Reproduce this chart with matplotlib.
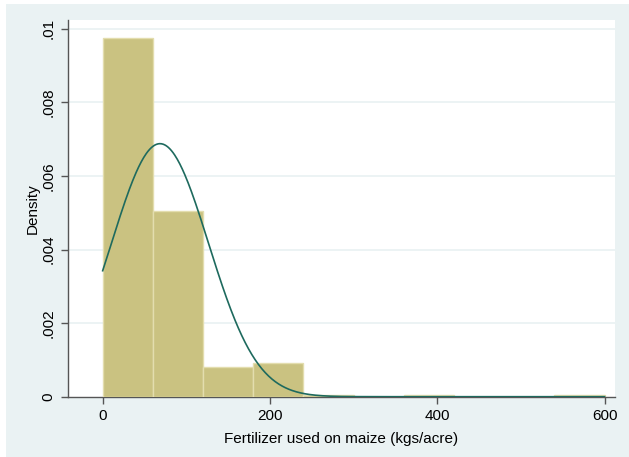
import numpy as np
import matplotlib
matplotlib.use("Agg")
import matplotlib.pyplot as plt
from matplotlib.patches import Rectangle

# Histogram bins (kgs/acre) and densities
bin_edges = [0, 60, 120, 180, 240, 300, 360, 420, 480, 540, 600]
densities = [0.00974, 0.00505, 0.00080, 0.00092, 0.00004, 0.0, 0.00004, 0.0, 0.0, 0.00004]

# Normal density overlay parameters
norm_mean = 68.5
norm_sd = 58.0

x_ticks = [0, 200, 400, 600]
y_ticks = [0, 0.002, 0.004, 0.006, 0.008, 0.01]
y_ticklabels = ["0", ".002", ".004", ".006", ".008", ".01"]

plt.rcParams['font.family'] = ['Liberation Sans', 'DejaVu Sans']

W, H = 629, 457
fig = plt.figure(figsize=(W / 100, H / 100), dpi=100)
fig.patch.set_facecolor("white")
bg = "#EAF2F3"
fig.patches.append(Rectangle((6 / W, 0), 1 - 6 / W, 1 - 4 / H, transform=fig.transFigure,
                             facecolor=bg, edgecolor="none", zorder=-10))

ax = fig.add_axes([67.7 / W, 1 - 396.7 / H, (615 - 67.7) / W, (396.7 - 20) / H])
ax.set_zorder(1)
ax.set_facecolor("white")

for v in y_ticks[1:]:
    ax.axhline(v, color=bg, lw=1.3, zorder=1)

lefts = bin_edges[:-1]
widths = np.diff(bin_edges)
ax.bar(lefts, densities, width=widths, align="edge", color="#CAC281",
       edgecolor="#E3DDAE", linewidth=1.0, zorder=2)

xs = np.linspace(bin_edges[0], bin_edges[-1], 600)
ys = np.exp(-0.5 * ((xs - norm_mean) / norm_sd) ** 2) / (norm_sd * np.sqrt(2 * np.pi))
ax.plot(xs, ys, color="#1E6A5E", lw=1.2, zorder=3)

ax.set_xlim(-41.8, 612.4)
ax.set_ylim(0, 0.01024)
ax.set_xticks(x_ticks)
ax.set_xticklabels([str(t) for t in x_ticks], fontsize=11)
ax.set_yticks(y_ticks)
ax.set_yticklabels(y_ticklabels, fontsize=11, rotation=90, va="center")

for s in ["top", "right"]:
    ax.spines[s].set_visible(False)
for s in ["left", "bottom"]:
    ax.spines[s].set_color("#555555")
    ax.spines[s].set_linewidth(1.0)
    ax.spines[s].set_zorder(1.5)
ax.tick_params(axis="both", direction="out", length=5, width=1.0, color="#555555", pad=4)

ax.set_xlabel("Fertilizer used on maize (kgs/acre)", fontsize=11, labelpad=6)
ax.set_ylabel("Density", fontsize=11)
ax.yaxis.set_label_coords((40 - 67.7) / (615 - 67.7), 0.5)

fig.savefig("out.png", dpi=100, facecolor=fig.get_facecolor())
